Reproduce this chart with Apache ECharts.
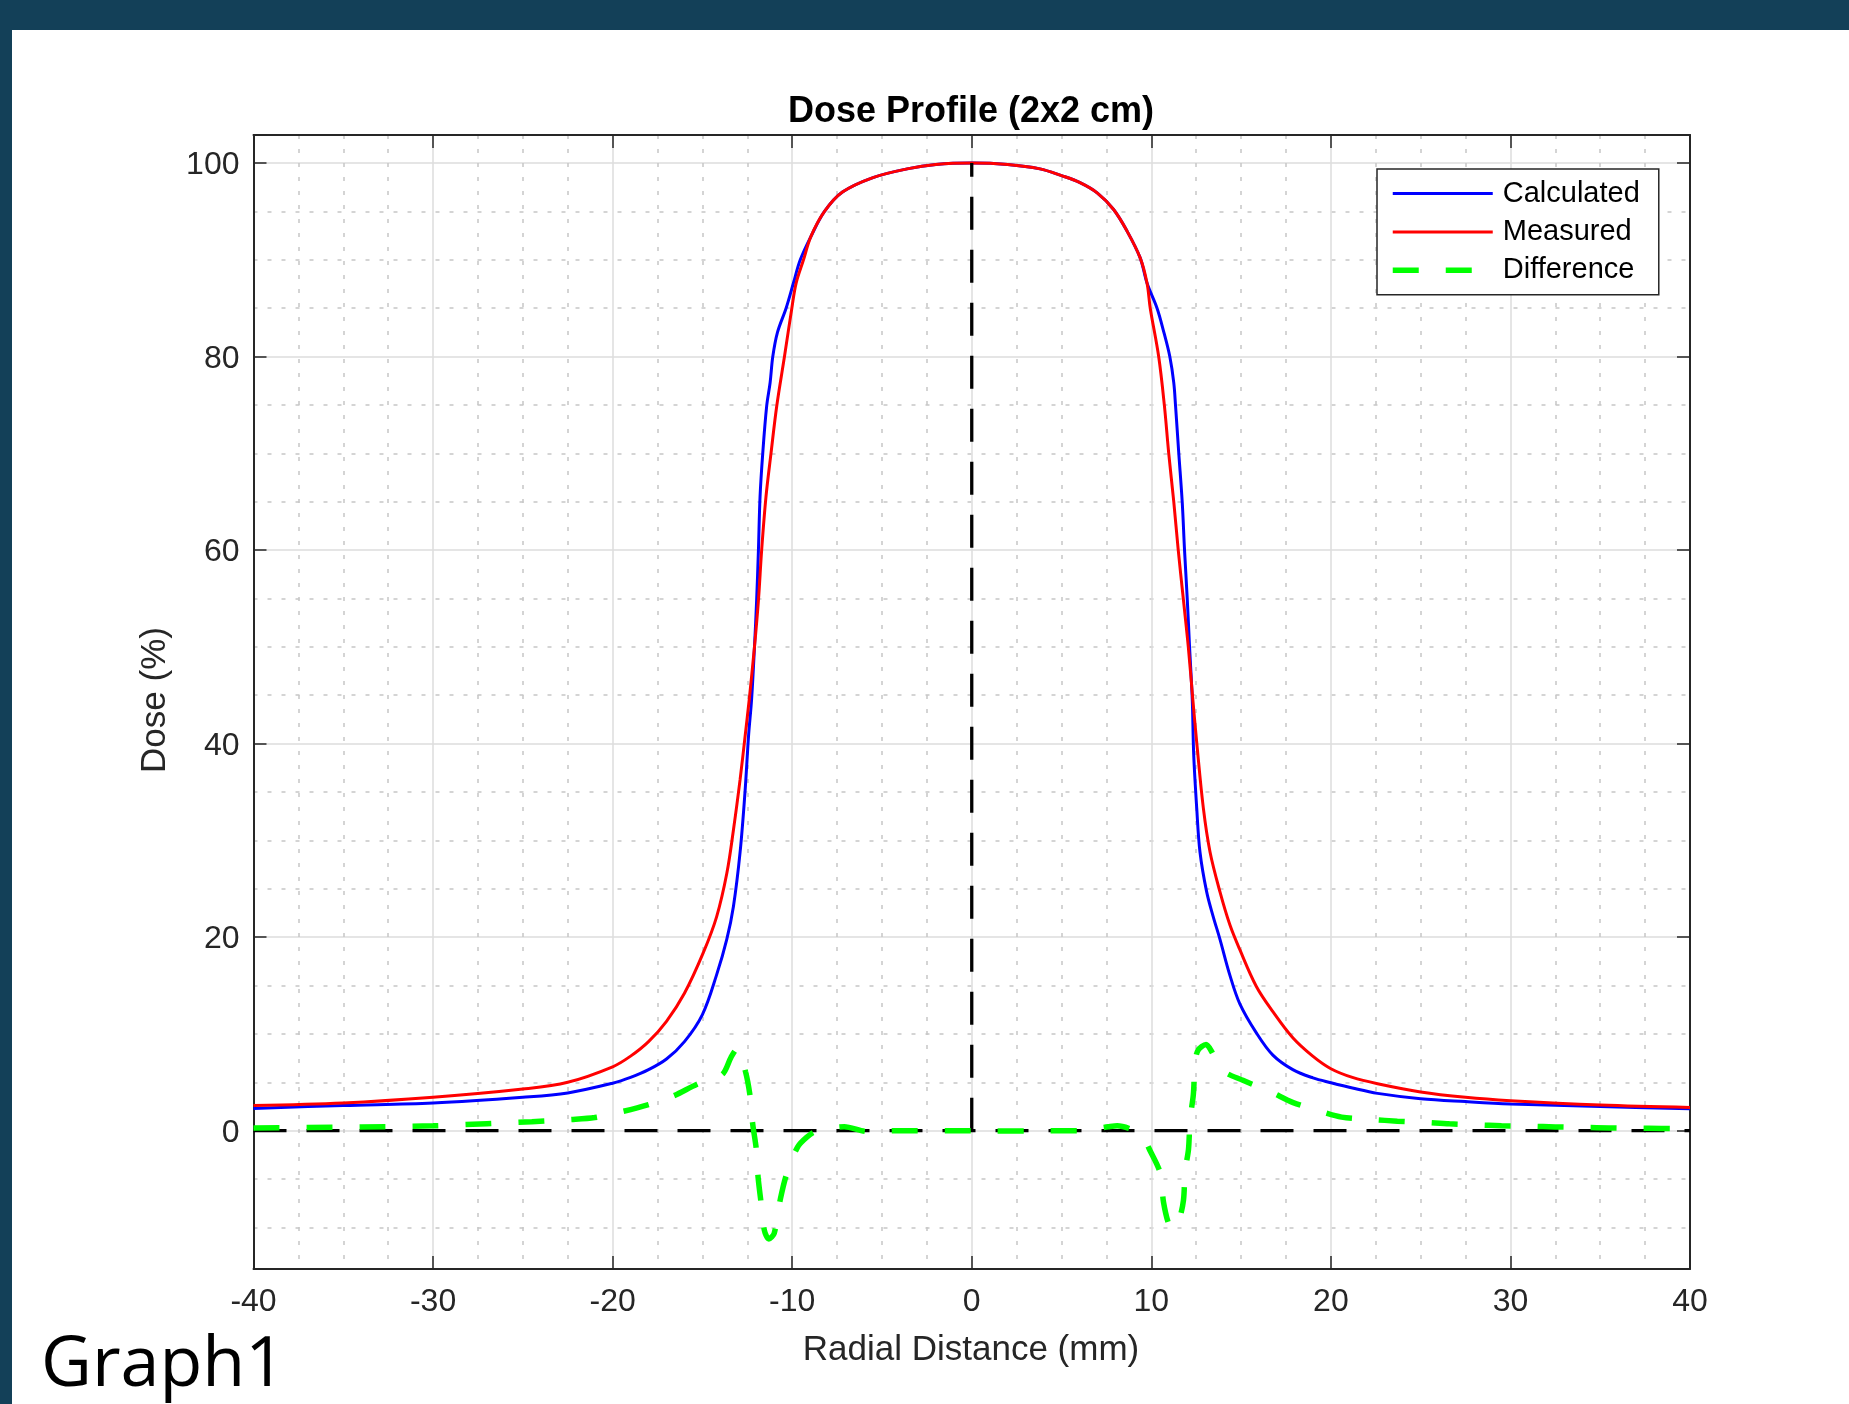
<!DOCTYPE html>
<html><head><meta charset="utf-8">
<script src="https://cdn.jsdelivr.net/npm/echarts@6/dist/echarts.min.js"></script>
<style>html,body{margin:0;padding:0;background:#fff}#c{width:1849px;height:1404px}</style>
</head><body><div id="c"></div>
<script>
// ---- data ----
const calcX = [-40,-35,-30,-25,-22.5,-20,-19,-18,-17,-16,-15,-14.21,-13.64,-13.27,-12.9,-12.62,-12.43,-12.26,-12.1,-11.98,-11.88,-11.79,-11.64,-11.42,-11.23,-11.08,-10.82,-10.34,-9.93,-9.55,-8.96,-8.2,-7.2,-5.5,-3.6,-2,0,2,3.8,5,6,7,7.9,8.64,9.38,9.76,10.32,10.7,11.03,11.25,11.35,11.53,11.72,11.85,12.0,12.13,12.28,12.36,12.53,12.71,13.08,13.45,13.82,14.37,14.93,15.85,16.77,17.88,19,20,21.2,22.6,25,27.5,30,35,40];
const calcY = [2.3,2.6,2.86,3.45,3.9,4.9,5.5,6.3,7.4,9.2,12.0,16.1,19.8,23.2,28.8,35.2,40.8,44.6,50,54.8,60,65.5,70,74.9,77.3,80,82.5,85,87.6,90,92.4,95,97,98.5,99.4,99.85,100,99.85,99.4,98.7,98.0,96.9,95.2,93.0,90.2,87.6,85,82.5,80,77.3,74.9,70,65,60,55,50,44.6,38.9,33.3,28.8,24.7,22.1,19.8,16.1,13.1,10.1,7.8,6.3,5.45,4.95,4.4,3.85,3.3,3.0,2.76,2.5,2.25];

const measX = [-40,-35,-30,-25,-22.5,-20,-19,-18,-17,-16,-14.95,-14.21,-13.64,-13.27,-12.9,-12.62,-12.39,-12.1,-11.88,-11.7,-11.46,-11.18,-10.86,-10.43,-10.02,-9.78,-9.37,-8.96,-8.2,-7.2,-5.5,-3.6,-2,0,2,3.8,5,6,7,7.9,8.64,9.38,9.76,9.94,10.41,10.73,10.97,11.25,11.5,11.78,12.06,12.31,12.53,12.9,13.27,13.82,14.37,14.93,15.85,16.77,17.88,18.99,20,21.2,22.6,25,27.5,30,35,40];
const measY = [2.6,2.86,3.45,4.3,5.0,6.6,7.7,9.2,11.3,14.2,18.4,22.1,26.6,31.1,36.3,40.8,44.6,50,54.8,60,65.5,70,74.9,80,85,87.6,90,92.4,95,97,98.5,99.4,99.85,100,99.85,99.4,98.7,98.0,96.9,95.2,93.0,90.2,87.6,85,80,74.9,70,65,60,55,50,44.6,40.1,33.3,28.8,24.7,21.3,18.7,14.9,12.3,9.6,7.7,6.4,5.5,4.85,4.0,3.45,3.1,2.65,2.4];

const diffX = [-40,-37,-34,-30,-27,-24.5,-22.3,-21,-19.4,-18,-16.6,-15.3,-13.9,-13.4,-13.05,-12.6,-12.34,-12.2,-12.0,-11.9,-11.75,-11.55,-11.3,-11.0,-10.65,-10.28,-9.7,-9.2,-8.7,-7.1,-5.8,-4,0,1.3,3,4.3,6,7.6,8.1,9.0,9.5,9.94,10.5,10.68,11.0,11.25,11.51,11.79,11.88,12.07,12.16,12.34,12.44,12.6,13.05,13.35,13.9,15.1,16.6,17.9,19.3,20.6,22.3,23.7,25.2,26.6,28.1,29.5,31.1,32.5,34.1,35.5,37,38.4,40];
const diffY = [0.28,0.32,0.38,0.5,0.72,0.93,1.15,1.35,2.0,2.7,3.6,4.8,5.8,7.6,8.5,6.1,3.5,0.7,-1.9,-4.8,-7.2,-10.3,-11.2,-10.6,-7.0,-4.3,-1.7,-0.7,-0.1,0.4,-0.1,0,0,-0.05,-0.05,0,0,0.4,0.5,0.05,-0.6,-2.1,-4.4,-7.4,-9.8,-10.1,-9.5,-7.2,-4.2,-1.95,1.2,3.7,7.0,8.3,8.9,8.2,6.3,5.2,4.05,2.9,2.07,1.4,1.15,0.98,0.85,0.7,0.6,0.5,0.45,0.38,0.33,0.28,0.25,0.22,0.2];

const zeroLineX = [-40, 40];
const zeroLineY = [0, 0];
const centerLineX = [0, 0];
const centerLineY = [0, 100];

const xMin = -40, xMax = 40, xStep = 10;
const yMin = -14.3, yMax = 102.9, yStep = 20;

const seriesNames = ['Calculated', 'Measured', 'Difference'];
const seriesColors = ['#0000ff', '#ff0000', '#00ff00'];
const seriesWidths = [3, 3, 5.5];
const seriesDash = ['solid', 'solid', [26, 27]];

// ---- build ----
const pairs = (xs, ys) => xs.map((x, i) => [x, ys[i]]);
const FONT = '"Liberation Sans", Arial, Helvetica, sans-serif';
const AX = '#262626';

const chart = echarts.init(document.getElementById('c'), null, {renderer: 'canvas'});

function xAxisCfg(pos, labels) {
  return {
    type: 'value', position: pos, min: xMin, max: xMax, interval: xStep,
    axisLine: {show: true, onZero: false, lineStyle: {color: AX, width: 2}},
    axisTick: {show: true, inside: true, length: 13, lineStyle: {color: AX, width: 1.5}},
    axisLabel: {show: labels, color: AX, fontSize: 32, fontFamily: FONT, margin: 17},
    splitLine: {show: labels, lineStyle: {color: '#dcdcdc', width: 1.5}},
    minorTick: {show: false, splitNumber: 4},
    minorSplitLine: {show: labels, lineStyle: {color: '#c6c6c6', width: 1.5, type: [4, 10]}}
  };
}
function yAxisCfg(pos, labels) {
  return {
    type: 'value', position: pos, min: yMin, max: yMax, splitNumber: 5,
    minInterval: yStep, maxInterval: yStep,
    axisLine: {show: true, onZero: false, lineStyle: {color: AX, width: 2}},
    axisTick: {show: true, inside: true, length: 13, lineStyle: {color: AX, width: 1.5}},
    axisLabel: {show: labels, color: AX, fontSize: 32, fontFamily: FONT, margin: 14,
      formatter: v => (Math.abs(v % yStep) < 1e-9 ? '{v|' + v + '}' : ''),
      rich: {v: {fontSize: 32, fontFamily: FONT, color: AX, padding: [5, 0, 0, 0]}}},
    splitLine: {show: labels, lineStyle: {color: '#dcdcdc', width: 1.5}},
    minorTick: {show: false, splitNumber: 4},
    minorSplitLine: {show: labels, lineStyle: {color: '#c6c6c6', width: 1.5, type: [4, 10]}}
  };
}

const option = {
  animation: false,
  backgroundColor: '#ffffff',
  grid: {left: 253.5, right: 159, top: 135, bottom: 135, containLabel: false, outerBoundsMode: 'none'},
  xAxis: [xAxisCfg('bottom', true), xAxisCfg('top', false)],
  yAxis: [yAxisCfg('left', true), yAxisCfg('right', false)],
  legend: {
    data: seriesNames.map((n, i) => ({
      name: n,
      itemStyle: {color: 'rgba(0,0,0,0)', borderWidth: 0, opacity: 0},
      lineStyle: {color: seriesColors[i], width: seriesWidths[i], type: seriesDash[i], opacity: 1}
    })),
    orient: 'vertical', left: 1377, top: 169,
    itemWidth: 100, itemHeight: 14, itemGap: 9.4, selectedMode: false,
    itemStyle: {color: 'rgba(0,0,0,0)', borderWidth: 0, opacity: 0},
    backgroundColor: '#ffffff', borderColor: AX, borderWidth: 1.5, borderRadius: 0,
    padding: [10, 19, 10, 13],
    textStyle: {fontSize: 29, fontFamily: FONT, color: '#000', lineHeight: 29, padding: [0, 0, 0, 5]}
  },
  graphic: [
    {type: 'rect', silent: true, shape: {x: 0, y: 0, width: 1849, height: 30}, style: {fill: '#134058'}},
    {type: 'rect', silent: true, shape: {x: 0, y: 0, width: 12, height: 1404}, style: {fill: '#134058'}},
    {type: 'text', silent: true, x: 971, y: 112, style: {text: 'Dose Profile (2x2 cm)', font: 'bold 36px ' + FONT, fill: '#000',
      align: 'center', verticalAlign: 'middle', textAlign: 'center', textVerticalAlign: 'middle'}},
    {type: 'text', silent: true, x: 971, y: 1350, style: {text: 'Radial Distance (mm)', font: '35px ' + FONT, fill: AX,
      align: 'center', verticalAlign: 'middle', textAlign: 'center', textVerticalAlign: 'middle'}},
    {type: 'text', silent: true, x: 155, y: 700, rotation: Math.PI / 2, style: {text: 'Dose (%)', font: '35px ' + FONT, fill: AX,
      align: 'center', verticalAlign: 'middle', textAlign: 'center', textVerticalAlign: 'middle'}},
    {type: 'text', silent: true, x: 41, y: 1366, style: {text: 'Graph1', font: '70px "Open Sans", sans-serif', fill: '#000',
      align: 'left', verticalAlign: 'middle', textAlign: 'left', textVerticalAlign: 'middle'}}
  ],
  series: [
    {name: 'Calculated', type: 'line', data: pairs(calcX, calcY), symbol: 'none', smooth: 0.35, z: 3,
      lineStyle: {color: seriesColors[0], width: seriesWidths[0]}, itemStyle: {color: seriesColors[0]}},
    {name: 'Measured', type: 'line', data: pairs(measX, measY), symbol: 'none', smooth: 0.35, z: 4,
      lineStyle: {color: seriesColors[1], width: seriesWidths[1]}, itemStyle: {color: seriesColors[1]}},
    {name: 'zero', type: 'line', data: pairs(zeroLineX, zeroLineY), symbol: 'none', silent: true, z: 5,
      lineStyle: {color: '#000', width: 3.3, type: [33, 20]}},
    {name: 'center', type: 'line', data: pairs(centerLineX, centerLineY), symbol: 'none', silent: true, z: 5,
      lineStyle: {color: '#000', width: 3.3, type: [33, 20]}},
    {name: 'Difference', type: 'line', data: pairs(diffX, diffY), symbol: 'none', smooth: 0.3, z: 6,
      lineStyle: {color: seriesColors[2], width: seriesWidths[2], type: seriesDash[2]}, itemStyle: {color: seriesColors[2]}}
  ]
};
chart.setOption(option);
</script></body></html>
